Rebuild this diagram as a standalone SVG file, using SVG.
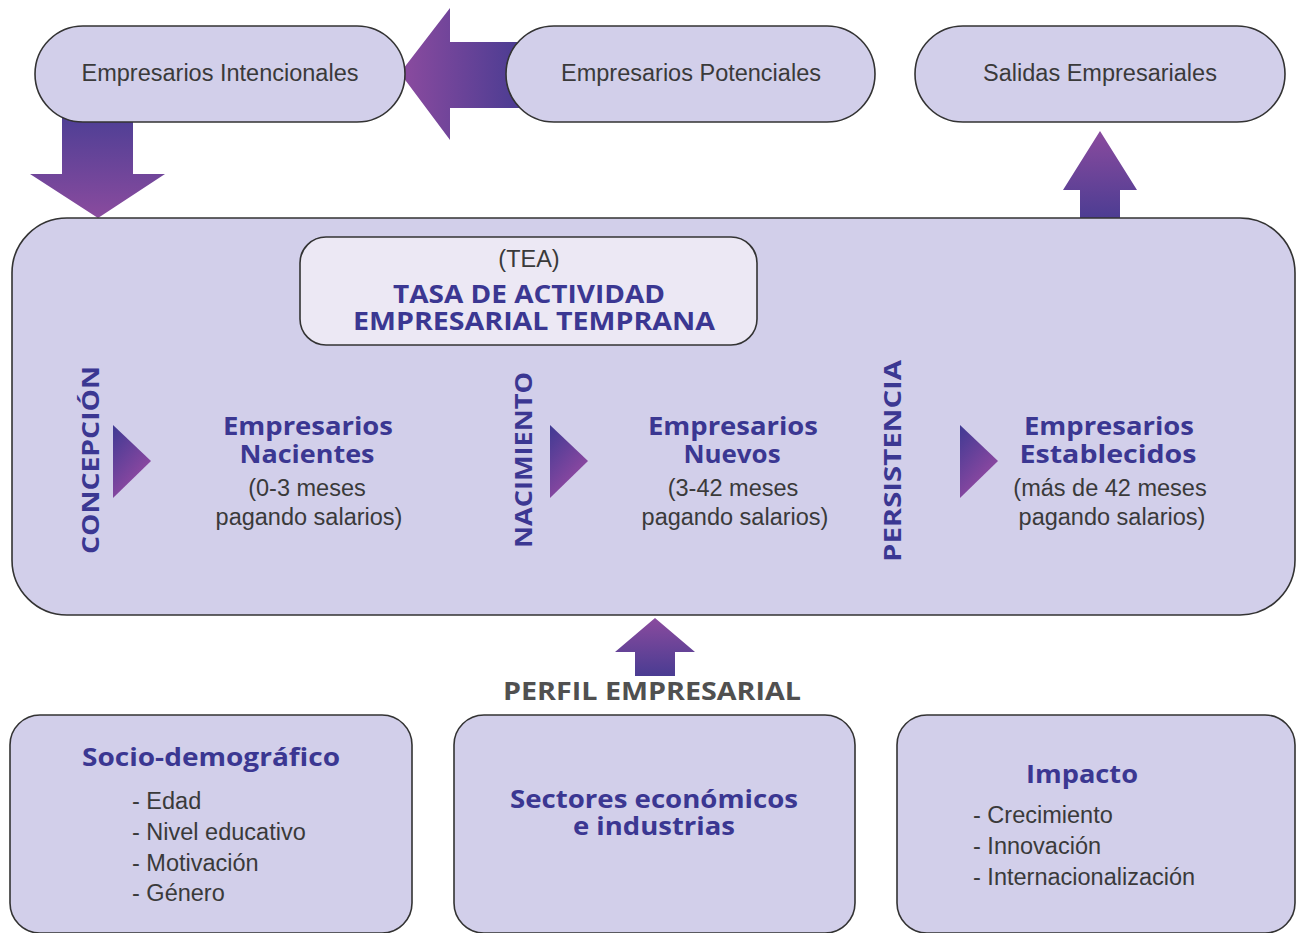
<svg xmlns="http://www.w3.org/2000/svg" width="1297" height="933" viewBox="0 0 1297 933">
<defs>
<linearGradient id="gH" x1="0" y1="0" x2="1" y2="0"><stop offset="0" stop-color="#8c4b9f"/><stop offset="1" stop-color="#4a3c92"/></linearGradient>
<linearGradient id="gDown" x1="0" y1="0" x2="0" y2="1"><stop offset="0" stop-color="#4f3f95"/><stop offset="1" stop-color="#8a4b9e"/></linearGradient>
<linearGradient id="gUp" x1="0" y1="0" x2="0" y2="1"><stop offset="0" stop-color="#8a4b9e"/><stop offset="1" stop-color="#4a3c92"/></linearGradient>
<linearGradient id="gTri" x1="0" y1="0" x2="0.6" y2="1"><stop offset="0" stop-color="#3f3a93"/><stop offset="1" stop-color="#9a4aa3"/></linearGradient>
</defs>
<style>
.box{fill:#d2cfea;stroke:#333;stroke-width:1.6}
.tea{fill:#ece8f4;stroke:#333;stroke-width:1.6}
.reg{font-family:"Liberation Sans",Arial,sans-serif;fill:#3a3a3a;font-size:23.5px}
.bold{font-family:"Open Sans","Noto Sans",sans-serif;font-weight:700;fill:#3b3792;font-size:25px}
.vert{font-family:"Open Sans","Noto Sans",sans-serif;font-weight:700;fill:#3b3792;font-size:23px}
.perfil{font-family:"Open Sans","Noto Sans",sans-serif;font-weight:700;fill:#505050;font-size:25px}
</style>
<rect width="1297" height="933" fill="#fff"/>
<g id="connectors">
<path d="M400,73 L450,8 L450,42 L522,42 L522,108 L450,108 L450,140 Z" fill="url(#gH)"/>
<path d="M62,118 L133,118 L133,174 L165,174 L98,218 L30,174 L62,174 Z" fill="url(#gDown)"/>
<path d="M1100,131 L1137,190 L1120,190 L1120,222 L1080,222 L1080,190 L1063,190 Z" fill="url(#gUp)"/>
<path d="M655,618 L695,652 L675,652 L675,676 L635,676 L635,652 L615,652 Z" fill="url(#gUp)"/>
</g>
<g id="n-intencionales"><rect class="box" x="35" y="26" width="370" height="96" rx="48"/><text class="reg" x="220" y="81" text-anchor="middle">Empresarios Intencionales</text></g>
<g id="n-potenciales"><rect class="box" x="506" y="26" width="369" height="96" rx="48"/><text class="reg" x="691" y="81" text-anchor="middle">Empresarios Potenciales</text></g>
<g id="n-salidas"><rect class="box" x="915" y="26" width="370" height="96" rx="48"/><text class="reg" x="1100" y="81" text-anchor="middle">Salidas Empresariales</text></g>
<g id="n-main">
<rect class="box" x="12" y="218" width="1283" height="397" rx="55"/>
</g>
<g id="stage-arrows">
<path d="M113,425 L151,461 L113,498 Z" fill="url(#gTri)"/>
<path d="M550,425 L588,461 L550,498 Z" fill="url(#gTri)"/>
<path d="M960,425 L998,461 L960,498 Z" fill="url(#gTri)"/>
</g>
<g id="n-tea">
<rect class="tea" x="300" y="237" width="457" height="108" rx="26"/>
<text class="reg" x="529" y="267" text-anchor="middle" font-size="21">(TEA)</text>
<text class="bold" x="529" y="303" text-anchor="middle" textLength="272" lengthAdjust="spacingAndGlyphs">TASA DE ACTIVIDAD</text>
<text class="bold" x="534" y="330" text-anchor="middle" textLength="362" lengthAdjust="spacingAndGlyphs">EMPRESARIAL TEMPRANA</text>
</g>
<g id="n-concepcion"><text class="vert" transform="translate(99,460) rotate(-90)" text-anchor="middle" textLength="188" lengthAdjust="spacingAndGlyphs">CONCEPCIÓN</text></g>
<g id="n-nacientes">
<text class="bold" x="308" y="435" text-anchor="middle" textLength="170" lengthAdjust="spacingAndGlyphs">Empresarios</text>
<text class="bold" x="307" y="463" text-anchor="middle" textLength="135" lengthAdjust="spacingAndGlyphs">Nacientes</text>
<text class="reg" x="307" y="496" text-anchor="middle">(0-3 meses</text>
<text class="reg" x="309" y="525" text-anchor="middle">pagando salarios)</text>
</g>
<g id="n-nacimiento"><text class="vert" transform="translate(532,460) rotate(-90)" text-anchor="middle" textLength="176" lengthAdjust="spacingAndGlyphs">NACIMIENTO</text></g>
<g id="n-nuevos">
<text class="bold" x="733" y="435" text-anchor="middle" textLength="170" lengthAdjust="spacingAndGlyphs">Empresarios</text>
<text class="bold" x="732" y="463" text-anchor="middle" textLength="97" lengthAdjust="spacingAndGlyphs">Nuevos</text>
<text class="reg" x="733" y="496" text-anchor="middle">(3-42 meses</text>
<text class="reg" x="735" y="525" text-anchor="middle">pagando salarios)</text>
</g>
<g id="n-persistencia"><text class="vert" transform="translate(901,461) rotate(-90)" text-anchor="middle" textLength="202" lengthAdjust="spacingAndGlyphs">PERSISTENCIA</text></g>
<g id="n-establecidos">
<text class="bold" x="1109" y="435" text-anchor="middle" textLength="170" lengthAdjust="spacingAndGlyphs">Empresarios</text>
<text class="bold" x="1108" y="463" text-anchor="middle" textLength="177" lengthAdjust="spacingAndGlyphs">Establecidos</text>
<text class="reg" x="1110" y="496" text-anchor="middle">(más de 42 meses</text>
<text class="reg" x="1112" y="525" text-anchor="middle">pagando salarios)</text>
</g>
<g id="n-perfil"><text class="perfil" x="652" y="700" text-anchor="middle" textLength="298" lengthAdjust="spacingAndGlyphs">PERFIL EMPRESARIAL</text></g>
<g id="n-socio">
<rect class="box" x="10" y="715" width="402" height="218" rx="30"/>
<text class="bold" x="211" y="766" text-anchor="middle" textLength="258" lengthAdjust="spacingAndGlyphs">Socio-demográfico</text>
<text class="reg" x="132" y="809">- Edad</text>
<text class="reg" x="132" y="840">- Nivel educativo</text>
<text class="reg" x="132" y="871">- Motivación</text>
<text class="reg" x="132" y="901">- Género</text>
</g>
<g id="n-sectores">
<rect class="box" x="454" y="715" width="401" height="218" rx="30"/>
<text class="bold" x="654" y="808" text-anchor="middle" textLength="288" lengthAdjust="spacingAndGlyphs">Sectores económicos</text>
<text class="bold" x="654" y="835" text-anchor="middle" textLength="162" lengthAdjust="spacingAndGlyphs">e industrias</text>
</g>
<g id="n-impacto">
<rect class="box" x="897" y="715" width="398" height="218" rx="30"/>
<text class="bold" x="1082" y="783" text-anchor="middle" font-size="27" textLength="112" lengthAdjust="spacingAndGlyphs">Impacto</text>
<text class="reg" x="973" y="823">- Crecimiento</text>
<text class="reg" x="973" y="854">- Innovación</text>
<text class="reg" x="973" y="885">- Internacionalización</text>
</g>
</svg>
